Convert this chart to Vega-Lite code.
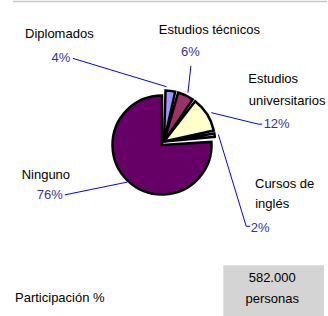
{
  "$schema": "https://vega.github.io/schema/vega-lite/v6.json",
  "width": 328,
  "height": 316,
  "autosize": {"type": "fit", "contains": "padding"},
  "padding": 0,
  "background": "white",
  "config": {"view": {"stroke": null}},
  "datasets": {
    "slices": [
      {"cat": "Diplomados", "pct": 4, "i": 1},
      {"cat": "Estudios técnicos", "pct": 6, "i": 2},
      {"cat": "Estudios universitarios", "pct": 12, "i": 3},
      {"cat": "Cursos de inglés", "pct": 2, "i": 4},
      {"cat": "Ninguno", "pct": 76, "i": 5}
    ],
    "labels": [
      {"t": "Diplomados", "x": 59.5, "y": 33.5, "k": "name"},
      {"t": "4%", "x": 61, "y": 57.5, "k": "pct"},
      {"t": "Estudios técnicos", "x": 210, "y": 29.5, "k": "name"},
      {"t": "6%", "x": 191, "y": 51.5, "k": "pct"},
      {"t": "Estudios", "x": 274, "y": 78.5, "k": "name"},
      {"t": "universitarios", "x": 288, "y": 100, "k": "name"},
      {"t": "12%", "x": 277.5, "y": 123.5, "k": "pct"},
      {"t": "Cursos de", "x": 285.5, "y": 183.5, "k": "name"},
      {"t": "inglés", "x": 273, "y": 204, "k": "name"},
      {"t": "2%", "x": 261, "y": 228, "k": "pct"},
      {"t": "Ninguno", "x": 46, "y": 175, "k": "name"},
      {"t": "76%", "x": 50, "y": 195, "k": "pct"},
      {"t": "Participación %", "x": 60, "y": 298, "k": "name"},
      {"t": "582.000", "x": 273, "y": 278, "k": "name"},
      {"t": "personas", "x": 273, "y": 299, "k": "name"}
    ],
    "leaders": [
      {"id": "D", "k": 1, "x": 73, "y": 57.5},
      {"id": "D", "k": 2, "x": 167, "y": 86},
      {"id": "T", "k": 1, "x": 191.5, "y": 65},
      {"id": "T", "k": 2, "x": 188.5, "y": 92},
      {"id": "U", "k": 1, "x": 212, "y": 112},
      {"id": "U", "k": 2, "x": 259, "y": 123.5},
      {"id": "U", "k": 3, "x": 263, "y": 123.5},
      {"id": "C", "k": 1, "x": 219, "y": 134},
      {"id": "C", "k": 2, "x": 247, "y": 226},
      {"id": "C", "k": 3, "x": 251, "y": 226},
      {"id": "N", "k": 1, "x": 65, "y": 194.5},
      {"id": "N", "k": 2, "x": 127.5, "y": 181.7}
    ],
    "frame": [
      {"x": 13, "x2": 328, "y": 0.5, "y2": 0.5, "kind": "line"},
      {"x": 224, "x2": 325, "y": 265, "y2": 316, "kind": "box"}
    ]
  },
  "layer": [
    {
      "data": {"name": "frame"},
      "transform": [{"filter": "datum.kind === 'box'"}],
      "mark": {"type": "rect", "fill": "#d4d4d4"},
      "encoding": {
        "x": {"field": "x", "type": "quantitative", "scale": {"domain": [0, 328], "nice": false, "zero": false}, "axis": null},
        "x2": {"field": "x2"},
        "y": {"field": "y", "type": "quantitative", "scale": {"domain": [316, 0], "nice": false, "zero": false}, "axis": null},
        "y2": {"field": "y2"}
      }
    },
    {
      "data": {"name": "frame"},
      "transform": [{"filter": "datum.kind === 'line'"}],
      "mark": {"type": "rule", "color": "#c8c8c8", "strokeWidth": 1.5},
      "encoding": {
        "x": {"field": "x", "type": "quantitative"},
        "x2": {"field": "x2"},
        "y": {"field": "y", "type": "quantitative"}
      }
    },
    {
      "data": {"name": "leaders"},
      "mark": {"type": "line", "color": "#0000ff", "strokeWidth": 1},
      "encoding": {
        "x": {"field": "x", "type": "quantitative"},
        "y": {"field": "y", "type": "quantitative"},
        "detail": {"field": "id"},
        "order": {"field": "k"}
      }
    },
    {
      "data": {"name": "slices"},
      "mark": {"type": "arc", "outerRadius": 49.5, "stroke": "black", "strokeWidth": 2.5, "strokeJoin": "miter"},
      "encoding": {
        "x": {"datum": 162.5, "type": "quantitative"},
        "y": {"datum": 144.5, "type": "quantitative"},
        "theta": {"field": "pct", "type": "quantitative", "stack": true},
        "order": {"field": "i"},
        "color": {"field": "cat", "type": "nominal", "legend": null,
          "scale": {"domain": ["Diplomados", "Estudios técnicos", "Estudios universitarios", "Cursos de inglés", "Ninguno"],
                    "range": ["#9999ff", "#993366", "#ffffcc", "#ccffff", "#660066"]}},
        "opacity": {"condition": {"test": "datum.cat === 'Ninguno'", "value": 1}, "value": 0}
      }
    },
    {
      "data": {"name": "slices"},
      "mark": {"type": "arc", "outerRadius": 51, "padAngle": 0.06, "stroke": "black", "strokeWidth": 2.5, "strokeJoin": "miter"},
      "encoding": {
        "x": {"datum": 164.5, "type": "quantitative"},
        "y": {"datum": 141, "type": "quantitative"},
        "theta": {"field": "pct", "type": "quantitative", "stack": true},
        "order": {"field": "i"},
        "color": {"field": "cat", "type": "nominal", "legend": null},
        "opacity": {"condition": {"test": "datum.cat === 'Ninguno'", "value": 0}, "value": 1}
      }
    },
    {
      "data": {"name": "labels"},
      "mark": {"type": "text", "font": "Liberation Sans", "fontSize": 13, "baseline": "middle", "align": "center"},
      "encoding": {
        "x": {"field": "x", "type": "quantitative"},
        "y": {"field": "y", "type": "quantitative"},
        "text": {"field": "t"},
        "color": {"condition": {"test": "datum.k === 'pct'", "value": "#333399"}, "value": "#000000"}
      }
    }
  ]
}
